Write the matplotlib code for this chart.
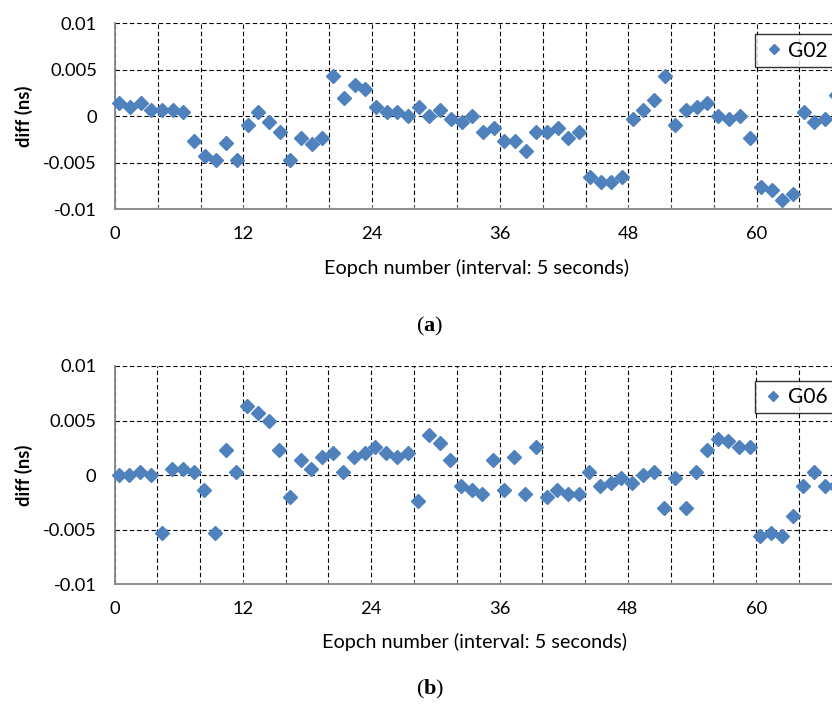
"""Clock difference per epoch for G02 and G06 (two stacked panels)."""

import matplotlib.pyplot as plt
import numpy as np

plt.rcParams["font.family"] = ["Lato", "DejaVu Sans"]
plt.rcParams["axes.unicode_minus"] = False
plt.rcParams["mathtext.fontset"] = "custom"
plt.rcParams["mathtext.rm"] = "Liberation Serif"
plt.rcParams["mathtext.bf"] = "Liberation Serif:bold"

# values (ns)
g02_diff = [
    0.0014, 0.0010, 0.0014, 0.0007, 0.0007, 0.0007, 0.0004, -0.0027, -0.0043, -0.0047,
    -0.0029, -0.0047, -0.0010, 0.0004, -0.0006, -0.0017, -0.0047, -0.0023, -0.0030, -0.0023,
    0.0043, 0.0020, 0.0034, 0.0029, 0.0010, 0.0004, 0.0004, 0.0000, 0.0010, 0.0000,
    0.0007, -0.0003, -0.0006, 0.0000, -0.0017, -0.0013, -0.0027, -0.0027, -0.0037, -0.0017,
    -0.0017, -0.0013, -0.0023, -0.0017, -0.0066, -0.0071, -0.0071, -0.0066, -0.0003, 0.0007,
    0.0017, 0.0043, -0.0010, 0.0007, 0.0010, 0.0014, 0.0000, -0.0003, 0.0000, -0.0023,
    -0.0076, -0.0080, -0.0090, -0.0084, 0.0004, -0.0006, -0.0003, 0.0023,
]
g06_diff = [
    0.0000, 0.0000, 0.0003, 0.0000, -0.0053, 0.0006, 0.0006, 0.0003, -0.0014, -0.0053,
    0.0023, 0.0003, 0.0063, 0.0057, 0.0050, 0.0023, -0.0020, 0.0014, 0.0006, 0.0017,
    0.0020, 0.0003, 0.0017, 0.0020, 0.0026, 0.0020, 0.0017, 0.0020, -0.0024, 0.0037,
    0.0029, 0.0014, -0.0010, -0.0014, -0.0017, 0.0014, -0.0014, 0.0017, -0.0017, 0.0026,
    -0.0020, -0.0014, -0.0017, -0.0017, 0.0003, -0.0010, -0.0007, -0.0003, -0.0007, 0.0000,
    0.0003, -0.0030, -0.0003, -0.0030, 0.0003, 0.0023, 0.0033, 0.0031, 0.0026, 0.0026,
    -0.0056, -0.0053, -0.0056, -0.0037, -0.0010, 0.0003, -0.0010, -0.0010,
]
# Excel puts each epoch in the middle of its category slot
epochs = np.arange(len(g02_diff)) + 0.4

x_ticks = [0, 12, 24, 36, 48, 60]
y_ticks = [-0.01, -0.005, 0, 0.005, 0.01]
y_labels = ["-0.01", "-0.005", "0", "0.005", "0.01"]

BLUE = "#4F81BD"
AXIS_GRAY = "#868686"
FS = 13.2

W, H = 832, 704
fig = plt.figure(figsize=(W / 100, H / 100), dpi=100)


def panel(rect, y, name, legend_xy, xlabel_xy, caption, caption_xy):
    ax = fig.add_axes(rect)
    ax.plot(epochs, y, linestyle="none", marker="D", markersize=7,
            color=BLUE, label=name, clip_on=False, zorder=3)
    ax.set_xlim(0, 72)
    ax.set_ylim(-0.01, 0.01)
    ax.set_xticks(x_ticks)
    ax.set_xticks(np.arange(0, 73, 4), minor=True)
    ax.set_yticks(y_ticks, y_labels)
    ax.grid(True, which="both", axis="x", color="black", linestyle=(0, (4, 2.5)), linewidth=0.8)
    ax.grid(True, which="major", axis="y", color="black", linestyle=(0, (4, 2.5)), linewidth=0.8)
    for side in ("top", "right"):
        ax.spines[side].set_visible(False)
    for side in ("left", "bottom"):
        ax.spines[side].set_color(AXIS_GRAY)
        ax.spines[side].set_linewidth(1.3)
        ax.spines[side].set_zorder(2.5)
    ax.tick_params(axis="y", length=0, pad=13, labelsize=FS)
    ax.tick_params(axis="x", which="both", direction="in", length=3,
                   color=AXIS_GRAY, pad=12, labelsize=FS)
    ax.set_ylabel("diff (ns)", fontsize=FS, fontweight="bold")
    # y label sits about 25 px from the left edge of the figure
    ax.yaxis.set_label_coords(-(rect[0] * W - 33) / (rect[2] * W), 0.5)
    # legend box runs past the right edge, as in the cropped original
    leg = ax.legend(loc="upper left", bbox_to_anchor=legend_xy, bbox_transform=fig.transFigure,
                    fontsize=15, frameon=True, fancybox=False, borderaxespad=0,
                    borderpad=0.3, handlelength=1.2, handletextpad=0.1, markerscale=0.8)
    leg.get_frame().set_edgecolor("black")
    leg.get_frame().set_linewidth(1.0)
    fig.text(*xlabel_xy, "Eopch number (interval: 5 seconds)", ha="center", va="center", fontsize=14.3)
    fig.text(*caption_xy, caption, ha="center", va="center", fontsize=16, family="Liberation Serif")
    return ax


panel([115 / W, 1 - 209 / H, 770 / W, 185.7 / H], g02_diff, "G02",
      (755 / W, 1 - 34.3 / H), (477 / W, 1 - 268 / H),
      r"($\mathbf{a}$)", (430 / W, 1 - 326 / H))
panel([114.5 / W, 1 - 584.3 / H, 770 / W, 218.3 / H], g06_diff, "G06",
      (754.5 / W, 1 - 381 / H), (475 / W, 1 - 641.7 / H),
      r"($\mathbf{b}$)", (430 / W, 1 - 689 / H))

fig.savefig("out.png", dpi=100)
